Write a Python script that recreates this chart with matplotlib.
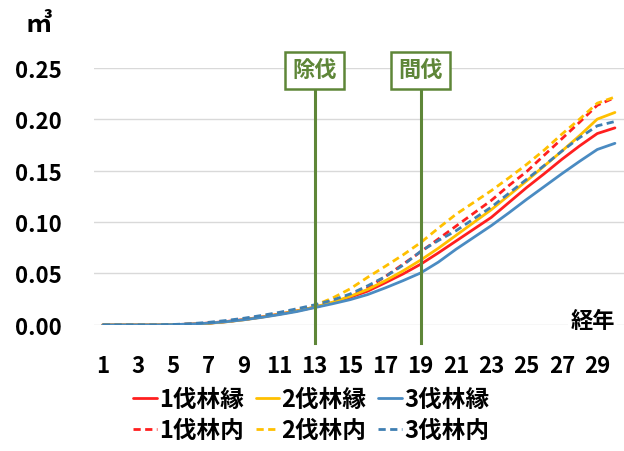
import matplotlib
matplotlib.use("Agg")
import matplotlib.pyplot as plt
from matplotlib.ticker import FormatStrFormatter

plt.rcParams['font.family'] = ['Noto Sans CJK JP', 'DejaVu Sans']
plt.rcParams['font.weight'] = 'bold'

years = list(range(1, 31))
xtick_labels = [str(v) for v in range(1, 30, 2)]

edge_1 = [0, 0, 0, 0, 0.0003, 0.0008, 0.0018, 0.0033, 0.0052, 0.0077,
          0.0105, 0.0137, 0.0172, 0.0215, 0.0268, 0.0328, 0.0410, 0.0495, 0.0590, 0.0700,
          0.0815, 0.0930, 0.1045, 0.1190, 0.1335, 0.1470, 0.1610, 0.1740, 0.1860, 0.1915]
edge_2 = [0, 0, 0, 0, 0.0003, 0.0007, 0.0016, 0.0030, 0.0050, 0.0075,
          0.0104, 0.0136, 0.0172, 0.0220, 0.0278, 0.0345, 0.0430, 0.0525, 0.0630, 0.0745,
          0.0870, 0.0995, 0.1120, 0.1260, 0.1400, 0.1545, 0.1690, 0.1840, 0.2000, 0.2065]
edge_3 = [0, 0, 0, 0, 0.0003, 0.0008, 0.0017, 0.0031, 0.0050, 0.0073,
          0.0100, 0.0130, 0.0168, 0.0205, 0.0245, 0.0295, 0.0360, 0.0430, 0.0505, 0.0610,
          0.0735, 0.0850, 0.0965, 0.1090, 0.1220, 0.1345, 0.1470, 0.1590, 0.1705, 0.1765]
inner_1 = [0, 0, 0, 0, 0.0003, 0.0008, 0.0017, 0.0032, 0.0052, 0.0078,
           0.0108, 0.0140, 0.0175, 0.0225, 0.0285, 0.0360, 0.0470, 0.0590, 0.0710, 0.0835,
           0.0960, 0.1085, 0.1210, 0.1355, 0.1490, 0.1650, 0.1810, 0.1970, 0.2135, 0.2210]
inner_2 = [0, 0, 0, 0, 0.0003, 0.0008, 0.0018, 0.0034, 0.0055, 0.0082,
           0.0112, 0.0148, 0.0190, 0.0260, 0.0350, 0.0463, 0.0570, 0.0680, 0.0800, 0.0940,
           0.1075, 0.1190, 0.1305, 0.1430, 0.1560, 0.1700, 0.1855, 0.2000, 0.2155, 0.2215]
inner_3 = [0, 0, 0, 0, 0.0004, 0.0012, 0.0025, 0.0043, 0.0065, 0.0092,
           0.0122, 0.0157, 0.0195, 0.0240, 0.0300, 0.0380, 0.0470, 0.0580, 0.0715, 0.0820,
           0.0915, 0.1030, 0.1145, 0.1280, 0.1415, 0.1550, 0.1690, 0.1820, 0.1935, 0.1977]

series = [
    ("1伐林縁", edge_1, '#FF1F1F', '-'),
    ("1伐林内", inner_1, '#FF1F1F', '--'),
    ("2伐林縁", edge_2, '#FFC000', '-'),
    ("2伐林内", inner_2, '#FFC000', '--'),
    ("3伐林縁", edge_3, '#4A8BC2', '-'),
    ("3伐林内", inner_3, '#3F7FB2', '--'),
]

events = [(13, "除伐"), (19, "間伐")]
green = '#5E8638'

fig = plt.figure(figsize=(6.24, 4.52), dpi=100)
ax = fig.add_axes([0.1506, 0.279, 0.849, 0.569])
ax.set_xlim(0.5, 30.5)
ax.set_ylim(0, 0.25)

for name, vals, color, ls in series:
    kw = dict(dashes=(2.6, 1.6)) if ls == '--' else {}
    ax.plot(years, vals, color=color, lw=2.0, label=name, zorder=3,
            solid_capstyle='round', **kw)

for x, label in events:
    ax.plot([x, x], [-0.018, 0.247], color=green, lw=2.2, clip_on=False, zorder=4)
    ax.text(x, 0.2475, label, color=green, fontsize=16, fontweight='bold',
            ha='center', va='center', zorder=5, clip_on=False,
            bbox=dict(boxstyle='square,pad=0.32', fc='white', ec=green, lw=1.8))

ax.set_yticks([0, 0.05, 0.10, 0.15, 0.20, 0.25])
ax.yaxis.set_major_formatter(FormatStrFormatter('%.2f'))
ax.set_xticks(range(1, 30, 2))
ax.set_xticklabels(xtick_labels)
ax.grid(axis='y', color='#D9D9D9', lw=1)
ax.set_axisbelow(True)
ax.tick_params(length=0, labelsize=16)
ax.tick_params(axis='x', pad=21)
ax.tick_params(axis='y', pad=23)
for lbl in ax.get_xticklabels() + ax.get_yticklabels():
    lbl.set_fontweight('bold')
for s in ax.spines.values():
    s.set_visible(False)

fig.text(0.062, 0.945, "㎥", fontsize=19, ha='center', va='center')
ax.text(28.75, 0.004, "経年", fontsize=16, fontweight='bold', ha='center', va='center',
        zorder=2, bbox=dict(boxstyle='square,pad=0.1', fc='white', ec='none'))

leg = ax.legend(loc='upper center', bbox_to_anchor=(0.41, -0.195), ncol=3,
                frameon=False, fontsize=17, handlelength=1.0, handletextpad=0.1,
                columnspacing=0.5, labelspacing=0.3, borderpad=0)
for t in leg.get_texts():
    t.set_fontweight('bold')

fig.savefig("out.png", dpi=100)
